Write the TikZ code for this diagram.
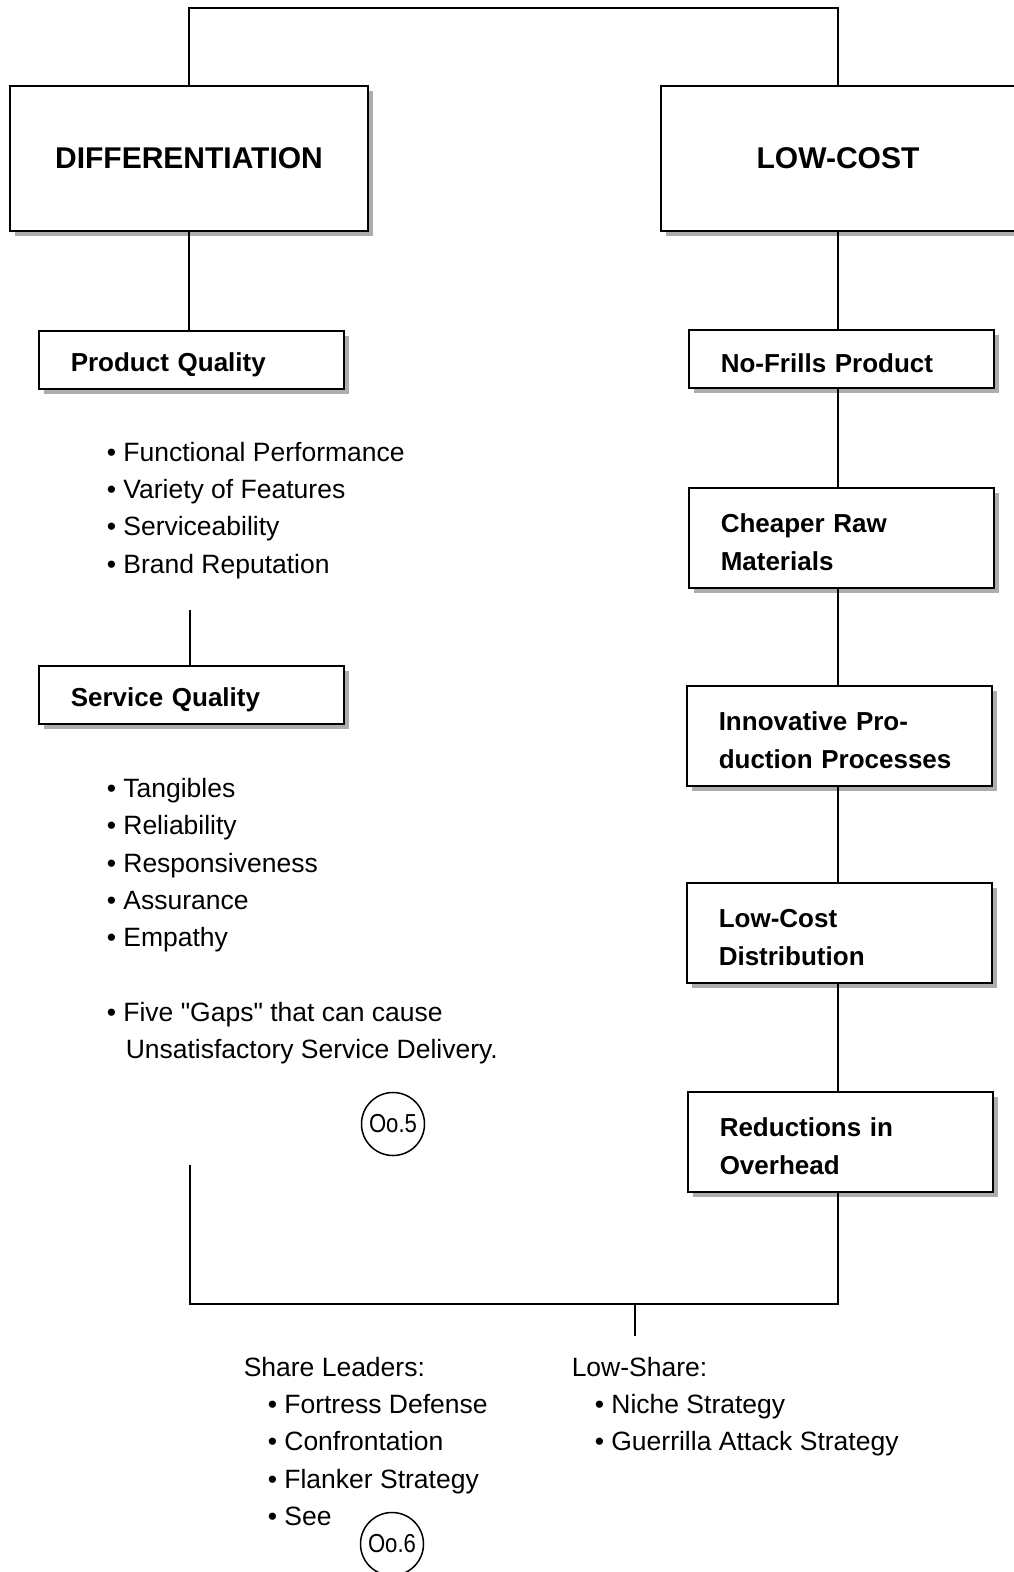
\documentclass[tikz,border=0pt]{standalone}
\usepackage{fontspec}
\setmainfont{Liberation Sans}
% same family without TeX ligature mapping, for straight double quotes
\newfontfamily\straightq{Liberation Sans}
\usepackage{graphicx}
\usetikzlibrary{shadows}

\begin{document}
\begin{tikzpicture}[x=1pt,y=-1pt,
  line width=1.5pt,
  every node/.style={inner sep=0pt},
  shadowed/.style={draw, fill=white,
    drop shadow={shadow xshift=5pt, shadow yshift=-5pt, fill=black!32, opacity=1}},
  mainbox/.style={shadowed, minimum height=145pt,
    font=\bfseries\fontsize{30}{36}\selectfont},
  subbox/.style={shadowed, anchor=north west, inner xsep=32pt, text width=241pt,
    align=left, font=\bfseries\fontsize{26}{38}\selectfont,
    execute at begin node={\rule{0pt}{28pt}}},
  item/.style={anchor=base west, font=\fontsize{26.5}{38}\selectfont},
  refmark/.style={draw, circle, minimum size=63pt, font=\fontsize{26}{30}\selectfont},
]
\useasboundingbox (0,0) rectangle (1013,1572);

% the two generic strategies
\node[mainbox, minimum width=358pt] (diff) at (189,158.5) {DIFFERENTIATION};
\node[mainbox, minimum width=354pt] (lc) at (838,158.5) {LOW-COST};

% differentiation branch
\node[subbox, minimum height=58pt] (pq) at (38,330) {Product Quality};
\node[subbox, minimum height=58pt] (sq) at (38,665) {Service Quality};

% low-cost branch
\node[subbox, minimum height=58pt] (nf) at (688,329) {No-Frills Product};
\node[subbox, minimum height=100pt] (cr) at (688,487) {Cheaper Raw\\Materials};
\node[subbox, minimum height=100pt] (ip) at (686,685) {Innovative Pro-\\duction Processes};
\node[subbox, minimum height=100pt] (ld) at (686,882) {Low-Cost\\Distribution};
\node[subbox, minimum height=100pt] (ro) at (687,1091) {Reductions in\\Overhead};

% product quality dimensions
\node[item] (pq1) at (106,461) {• Functional Performance};
\node[item] (pq2) at (106,498) {• Variety of Features};
\node[item] (pq3) at (106,535) {• Serviceability};
\node[item] (pq4) at (106,573) {• Brand Reputation};

% service quality dimensions
\node[item] (sq1) at (106,797) {• Tangibles};
\node[item] (sq2) at (106,834) {• Reliability};
\node[item] (sq3) at (106,872) {• Responsiveness};
\node[item] (sq4) at (106,909) {• Assurance};
\node[item] (sq5) at (106,946) {• Empathy};
\node[item] (gap1) at (106,1021) {• Five {\straightq "}Gaps{\straightq "} that can cause};
\node[item] (gap2) at (125,1058) {Unsatisfactory Service Delivery.};

\node[refmark] (r5) at (393,1124) {\scalebox{0.85}[1]{Oo.5}};

% market-share strategies
\node[item] (sl) at (243,1376) {Share Leaders:};
\node[item] (sl1) at (267,1413) {• Fortress Defense};
\node[item] (sl2) at (267,1450) {• Confrontation};
\node[item] (sl3) at (267,1488) {• Flanker Strategy};
\node[item] (sl4) at (267,1525) {• See};
\node[refmark] (r6) at (392,1544) {\scalebox{0.85}[1]{Oo.6}};

\node[item] (ls) at (571,1376) {Low-Share:};
\node[item] (ls1) at (594,1413) {• Niche Strategy};
\node[item] (ls2) at (594,1450) {• Guerrilla Attack Strategy};

% connectors
\coordinate (topbar) at (0,8);
\coordinate (pqgap) at (190,610);
\coordinate (sqgap) at (190,1165);
\coordinate (basebar) at (0,1304);
\coordinate (stubtop) at (635,1304);
\coordinate (stubend) at (635,1336);

\draw (diff.north) -- (diff.north |- topbar) -| (lc.north);
\draw (diff.south) -- (diff.south |- pq.north);
\draw (pqgap) -- (pqgap |- sq.north);
\draw (lc.south) -- (lc.south |- nf.north);
\draw (lc.south |- nf.south) -- (lc.south |- cr.north);
\draw (lc.south |- cr.south) -- (lc.south |- ip.north);
\draw (lc.south |- ip.south) -- (lc.south |- ld.north);
\draw (lc.south |- ld.south) -- (lc.south |- ro.north);
\draw (sqgap) |- (lc.south |- basebar) -- (lc.south |- ro.south);
\draw (stubtop) -- (stubend);
\end{tikzpicture}
\end{document}
